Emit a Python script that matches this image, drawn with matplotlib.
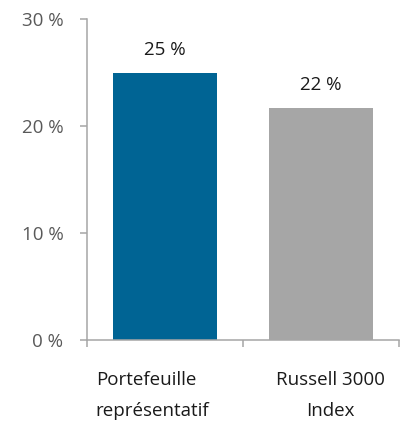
import matplotlib.pyplot as plt
import numpy as np

categories = ["Portefeuille\nreprésentatif", "Russell 3000\nIndex"]
values = [25.0, 21.7]
value_labels = ["25 %", "22 %"]
yticks = [0, 10, 20, 30]
ytick_labels = ["0 %", "10 %", "20 %", "30 %"]
colors = ["#006494", "#a6a6a6"]

plt.rcParams["font.family"] = ["Open Sans", "DejaVu Sans"]
SPINE = "#a6a6a6"
FS = 13.5

fig = plt.figure(figsize=(4.06, 4.22), dpi=100)
ax = fig.add_axes([87 / 406, 82 / 422, 312 / 406, 321 / 422])

x = np.arange(len(categories))
ax.bar(x, values, width=0.667, color=colors, zorder=2)
for xi, v, lab in zip(x, values, value_labels):
    ax.annotate(lab, (xi, v), xytext=(0, 10), textcoords="offset points",
                ha="center", va="bottom", fontsize=FS, color="#1a1a1a")

# category labels: first one is left-aligned in the original, second centred
label_dx = [-9, 6.5]
label_align = ["left", "center"]
for xi, lab, dx, al in zip(x, categories, label_dx, label_align):
    ax.annotate(lab, (xi, 0), xycoords=("data", "axes fraction"),
                xytext=(dx, -22), textcoords="offset points",
                ha="center", va="top", multialignment=al,
                fontsize=FS, color="#1a1a1a", linespacing=1.95)

ax.set_xlim(-0.5, 1.5)
ax.set_ylim(0, 30)
ax.set_yticks(yticks)
ax.set_yticklabels(ytick_labels, fontsize=FS, color="#595959")
ax.set_xticks([-0.5, 0.5, 1.5])
ax.set_xticklabels([])

for s in ["top", "right"]:
    ax.spines[s].set_visible(False)
for s in ["left", "bottom"]:
    ax.spines[s].set_color(SPINE)
    ax.spines[s].set_linewidth(1.1)

ax.tick_params(axis="y", direction="out", length=5, width=1.1, color=SPINE, pad=12)
ax.tick_params(axis="x", direction="out", length=5, width=1.1, color=SPINE)

fig.savefig("out.png", dpi=100)
